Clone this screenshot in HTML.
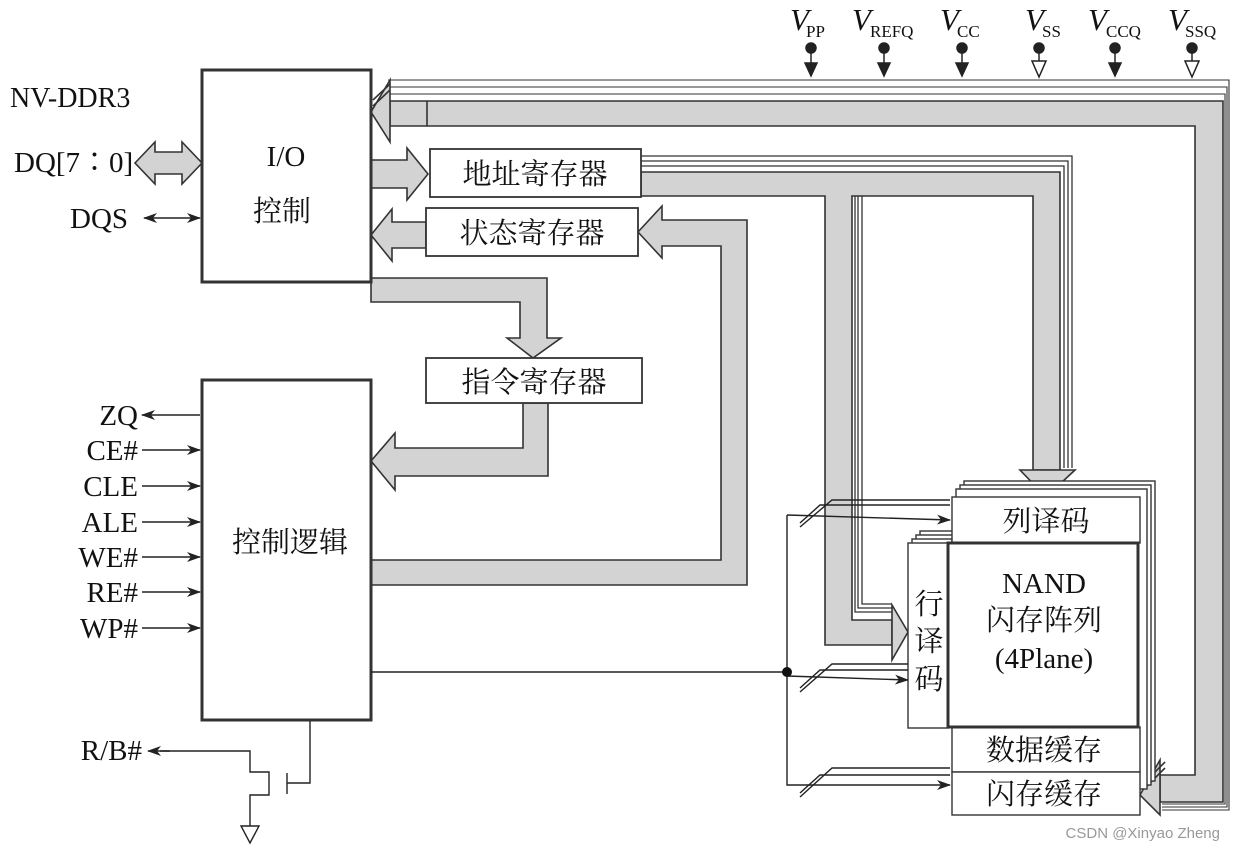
<!DOCTYPE html>
<html><head><meta charset="utf-8"><style>
html,body{margin:0;padding:0;background:#fff;}
svg{display:block;}
text{font-family:"Liberation Serif","Noto Serif CJK SC","Noto Sans CJK SC",serif;fill:#111;}
</style></head><body>
<svg width="1234" height="852" viewBox="0 0 1234 852" xmlns="http://www.w3.org/2000/svg">
<defs>
<marker id="ar" markerWidth="14" markerHeight="10" refX="13" refY="5" orient="auto" markerUnits="userSpaceOnUse"><path d="M0,0 L14,5 L0,10 L4,5 z" fill="#222"/></marker>
<marker id="al" markerWidth="14" markerHeight="10" refX="1" refY="5" orient="auto" markerUnits="userSpaceOnUse"><path d="M14,0 L0,5 L14,10 L10,5 z" fill="#222"/></marker>
</defs>
<g stroke="#333" stroke-width="1.6" fill="#d3d3d3">
<g fill="none" stroke-width="1.1">
<polyline points="388,80 1229,80 1229,810 1162,810"/>
<polyline points="388,87 1227,87 1227,807 1162,807"/>
<polyline points="388,94 1225,94 1225,804 1162,804"/>
</g>
<polygon points="390,101 1223,101 1223,802 1160,802 1160,775 1195,775 1195,126 390,126"/>
<line x1="427" y1="101" x2="427" y2="126"/>
<polygon points="371,112 390,80 390,142"/>
<polyline points="373,100 390,84" fill="none"/><polyline points="373,106 390,90" fill="none"/>
<polygon points="1140,795 1160,760 1160,815"/>
<polyline points="1145,782 1165,762" fill="none"/><polyline points="1145,788 1165,768" fill="none"/>
<g fill="none" stroke-width="1.3">
<polyline points="641,156 1072,156 1072,468"/>
<polyline points="641,161 1068,161 1068,468"/>
<polyline points="641,166 1064,166 1064,468"/>
<polyline points="855,196 855,612 892,612"/>
<polyline points="858,196 858,608 892,608"/>
<polyline points="862,196 862,604 892,604"/>
</g>
<polygon points="641,172 1060,172 1060,470 1033,470 1033,196 852,196 852,620 892,620 892,645 825,645 825,196 641,196"/>
<polygon points="1020,470 1075,470 1046,497"/>
<polygon points="892,605 908,632 892,660"/>
<polygon points="371,160 407,160 407,148 428,174 407,200 407,188 371,188"/>
<polygon points="426,222 392,222 392,209 371,235 392,261 392,248 426,248"/>
<polygon points="371,560 721,560 721,246 662,246 662,258 638,232 662,206 662,220 747,220 747,585 371,585"/>
<polygon points="371,278 547,278 547,338 561,338 533,358 507,338 520,338 520,302 371,302"/>
<polygon points="548,403 548,476 395,476 395,490 371,461 395,433 395,448 523,448 523,403"/>
<polygon points="135,163 155,142 155,152 182,152 182,142 202,163 182,184 182,174 155,174 155,184"/>
</g>
<g fill="#fff" stroke="#333">
<rect x="202" y="70" width="169" height="212" stroke-width="3"/>
<rect x="202" y="380" width="169" height="340" stroke-width="3"/>
<rect x="430" y="149" width="211" height="48" stroke-width="1.8"/>
<rect x="426" y="208" width="212" height="48" stroke-width="1.8"/>
<rect x="426" y="358" width="216" height="45" stroke-width="1.8"/>
</g>
<g fill="#fff" stroke="#333" stroke-width="1.4">
<rect x="964" y="481" width="191" height="300"/>
<rect x="960" y="485" width="191" height="300"/>
<rect x="956" y="489" width="191" height="300"/>
<rect x="920" y="531" width="40" height="185"/>
<rect x="916" y="535" width="40" height="185"/>
<rect x="912" y="539" width="40" height="185"/>
<rect x="952" y="497" width="188" height="46"/>
<rect x="908" y="543" width="40" height="185"/>
<rect x="952" y="727" width="188" height="45"/>
<rect x="952" y="772" width="188" height="43"/>
<rect x="948" y="543" width="190" height="184" stroke-width="3"/>
</g>
<g stroke="#222" stroke-width="1.4" fill="none">
<line x1="371" y1="672" x2="787" y2="672"/>
<polyline points="787,515 787,785 950,785" marker-end="url(#ar)"/>
<polyline points="787,515 950,520" marker-end="url(#ar)"/>
<polyline points="787,676 908,680" marker-end="url(#ar)"/>
<polyline points="800,523 820,505 950,505"/><polyline points="800,527 832,500 950,500"/>
<polyline points="800,688 820,670 908,670"/><polyline points="800,692 832,664 908,664"/>
<polyline points="800,793 820,775 950,775"/><polyline points="800,797 832,768 950,768"/>
<line x1="144" y1="218" x2="200" y2="218" marker-end="url(#ar)" marker-start="url(#al)"/>
<line x1="200" y1="415" x2="142" y2="415" marker-end="url(#ar)"/>
<line x1="142" y1="450" x2="200" y2="450" marker-end="url(#ar)"/>
<line x1="142" y1="486" x2="200" y2="486" marker-end="url(#ar)"/>
<line x1="142" y1="522" x2="200" y2="522" marker-end="url(#ar)"/>
<line x1="142" y1="557" x2="200" y2="557" marker-end="url(#ar)"/>
<line x1="142" y1="592" x2="200" y2="592" marker-end="url(#ar)"/>
<line x1="142" y1="628" x2="200" y2="628" marker-end="url(#ar)"/>
<polyline points="310,721 310,783 287,783"/>
<line x1="287" y1="773" x2="287" y2="794"/>
<polyline points="160,751 250,751 250,772 269,772 269,795 250,795 250,826" />
<line x1="170" y1="751" x2="148" y2="751" marker-end="url(#ar)"/>
<polygon points="241,826 259,826 250,843" fill="#fff"/>
</g>
<circle cx="787" cy="672" r="5" fill="#111"/>
<g stroke="#222" stroke-width="1.5">
<circle cx="811" cy="48" r="5" fill="#222"/><line x1="811" y1="48" x2="811" y2="66"/><polygon points="805,63 817,63 811,76" fill="#222"/>
<circle cx="884" cy="48" r="5" fill="#222"/><line x1="884" y1="48" x2="884" y2="66"/><polygon points="878,63 890,63 884,76" fill="#222"/>
<circle cx="962" cy="48" r="5" fill="#222"/><line x1="962" y1="48" x2="962" y2="66"/><polygon points="956,63 968,63 962,76" fill="#222"/>
<circle cx="1039" cy="48" r="5" fill="#222"/><line x1="1039" y1="48" x2="1039" y2="61"/><polygon points="1032,61 1046,61 1039,77" fill="#fff"/>
<circle cx="1115" cy="48" r="5" fill="#222"/><line x1="1115" y1="48" x2="1115" y2="66"/><polygon points="1109,63 1121,63 1115,76" fill="#222"/>
<circle cx="1192" cy="48" r="5" fill="#222"/><line x1="1192" y1="48" x2="1192" y2="61"/><polygon points="1185,61 1199,61 1192,77" fill="#fff"/>
</g>
<g font-size="29">
<text x="10" y="107" font-size="28">NV-DDR3</text>
<text x="14" y="172" font-size="29">DQ[7∶0]</text>
<text x="70" y="228">DQS</text>
<text x="286" y="166" text-anchor="middle">I/O</text>
<text x="282" y="221" text-anchor="middle">控制</text>
<text x="290" y="552" text-anchor="middle">控制逻辑</text>
<text x="535" y="184" text-anchor="middle">地址寄存器</text>
<text x="532" y="243" text-anchor="middle">状态寄存器</text>
<text x="534" y="392" text-anchor="middle">指令寄存器</text>
<g text-anchor="end">
<text x="138" y="425">ZQ</text><text x="138" y="460">CE#</text><text x="138" y="496">CLE</text>
<text x="138" y="532">ALE</text><text x="138" y="567">WE#</text><text x="138" y="602">RE#</text><text x="138" y="638">WP#</text>
<text x="142" y="760">R/B#</text>
</g>
<text x="1046" y="531" text-anchor="middle">列译码</text>
<text x="1044" y="593" text-anchor="middle">NAND</text>
<text x="1044" y="630" text-anchor="middle">闪存阵列</text>
<text x="1044" y="668" text-anchor="middle">(4Plane)</text>
<text x="929" y="614" text-anchor="middle">行</text>
<text x="929" y="651" text-anchor="middle">译</text>
<text x="929" y="689" text-anchor="middle">码</text>
<text x="1044" y="760" text-anchor="middle">数据缓存</text>
<text x="1044" y="804" text-anchor="middle">闪存缓存</text>
<g font-size="31" font-style="italic">
<text x="790" y="30">V</text><text x="852" y="30">V</text><text x="940" y="30">V</text>
<text x="1025" y="30">V</text><text x="1088" y="30">V</text><text x="1168" y="30">V</text>
</g>
<g font-size="17">
<text x="806" y="37">PP</text><text x="870" y="37">REFQ</text><text x="957" y="37">CC</text>
<text x="1042" y="37">SS</text><text x="1106" y="37">CCQ</text><text x="1185" y="37">SSQ</text>
</g>
</g>
<text x="1220" y="838" text-anchor="end" font-size="15" style="font-family:'Liberation Sans',sans-serif;fill:#999">CSDN @Xinyao Zheng</text>
</svg>
</body></html>
